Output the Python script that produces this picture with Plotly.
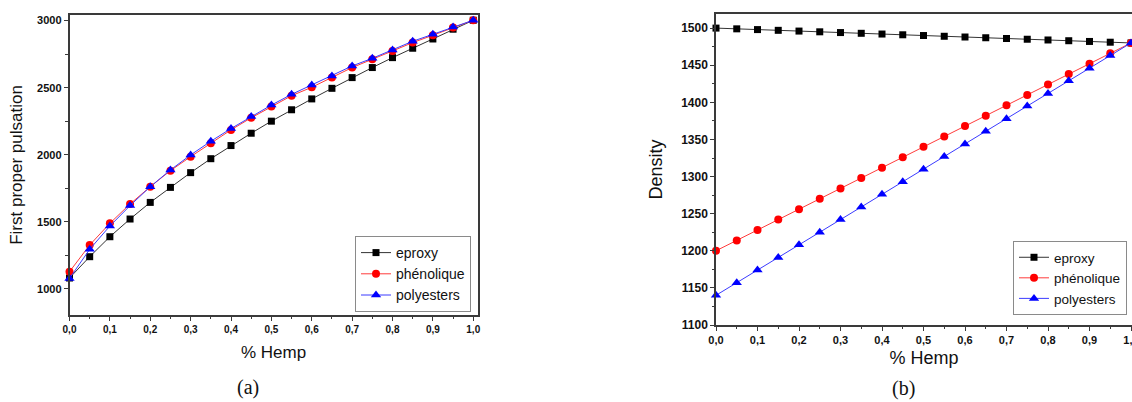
import plotly.graph_objects as go

hemp = [0.0, 0.05, 0.1, 0.15, 0.2, 0.25, 0.3, 0.35, 0.4, 0.45, 0.5,
        0.55, 0.6, 0.65, 0.7, 0.75, 0.8, 0.85, 0.9, 0.95, 1.0]

puls_eproxy = [1080, 1239, 1388, 1520, 1644, 1756, 1866, 1970, 2068, 2160, 2250,
               2335, 2416, 2495, 2575, 2650, 2724, 2794, 2863, 2936, 3003]
puls_phenol = [1127, 1326, 1488, 1632, 1761, 1881, 1985, 2085, 2185, 2275, 2360,
               2440, 2503, 2575, 2650, 2712, 2774, 2836, 2891, 2948, 3003]
puls_polyes = [1077, 1294, 1468, 1620, 1761, 1886, 1998, 2100, 2195, 2285, 2370,
               2450, 2520, 2587, 2662, 2719, 2781, 2846, 2898, 2953, 3003]

dens_eproxy = [1500, 1499, 1498, 1497, 1496, 1495, 1494, 1493, 1492, 1491, 1490,
               1489, 1488, 1487, 1486, 1485, 1484, 1483, 1482, 1481, 1480]
dens_phenol = [1200, 1214, 1228, 1242, 1256, 1270, 1284, 1298, 1312, 1326, 1340,
               1354, 1368, 1382, 1396, 1410, 1424, 1438, 1452, 1466, 1480]
dens_polyes = [1140, 1157, 1174, 1191, 1208, 1225, 1242, 1259, 1276, 1293, 1310,
               1327, 1344, 1361, 1378, 1395, 1412, 1429, 1446, 1463, 1480]

series_names = ["eproxy", "phénolique", "polyesters"]
x_tick_vals = [0.0, 0.1, 0.2, 0.3, 0.4, 0.5, 0.6, 0.7, 0.8, 0.9, 1.0]
x_tick_text = ["0,0", "0,1", "0,2", "0,3", "0,4", "0,5", "0,6", "0,7", "0,8", "0,9", "1,0"]
puls_ticks = [1000, 1500, 2000, 2500, 3000]
dens_ticks = [1100, 1150, 1200, 1250, 1300, 1350, 1400, 1450, 1500]

W, H = 1132, 402
colors = ["#000000", "#ff0000", "#0000ff"]
line_colors = ["#333333", "#ff3b3b", "#3b3bff"]
symbols = ["square", "circle", "triangle-up"]
msizes = [7, 8, 9]

fig = go.Figure()
left = [puls_eproxy, puls_phenol, puls_polyes]
right = [dens_eproxy, dens_phenol, dens_polyes]
for i in range(3):
    fig.add_trace(go.Scatter(
        x=hemp, y=left[i], name=series_names[i], mode="lines+markers",
        xaxis="x", yaxis="y", legend="legend",
        line=dict(color=line_colors[i], width=1),
        marker=dict(color=colors[i], symbol=symbols[i], size=msizes[i]),
        cliponaxis=False))
for i in range(3):
    fig.add_trace(go.Scatter(
        x=hemp, y=right[i], name=series_names[i], mode="lines+markers",
        xaxis="x2", yaxis="y2", legend="legend2",
        line=dict(color=line_colors[i], width=1),
        marker=dict(color=colors[i], symbol=symbols[i], size=msizes[i]),
        cliponaxis=False))

axis_common = dict(showgrid=False, zeroline=False, showline=True, mirror=True,
                   linecolor="#3a3a3a", linewidth=1.5, ticks="outside",
                   tickcolor="#3a3a3a", ticklen=4, tickwidth=1.2, automargin=False)
sans = "Arial, Liberation Sans"
serif = "Liberation Serif, Times New Roman"

fig.update_layout(
    width=W, height=H, margin=dict(l=0, r=0, t=0, b=0),
    paper_bgcolor="white", plot_bgcolor="white",
    font=dict(family=sans, color="#111"),
    xaxis=dict(domain=[69.5 / W, 477.7 / W], range=[0, 1.011], anchor="y",
               tickvals=x_tick_vals, ticktext=x_tick_text,
               tickfont=dict(size=10, weight="bold"),
               minor=dict(ticks="outside", dtick=0.05, ticklen=2.5, tickcolor="#3a3a3a"),
               title=dict(text="% Hemp", font=dict(family=sans, size=17, color="#111"), standoff=12),
               **axis_common),
    yaxis=dict(domain=[1 - 315 / H, 1 - 15 / H], range=[804, 3042], anchor="x",
               tickvals=puls_ticks,
               tickfont=dict(size=11, weight="bold"),
               minor=dict(ticks="outside", dtick=250, tick0=1000, ticklen=2.5, tickcolor="#3a3a3a"),
               title=dict(text="First proper pulsation", font=dict(family=sans, size=17, color="#111"), standoff=10),
               **axis_common),
    xaxis2=dict(domain=[716 / W, 1.0], range=[0, 1.0024], anchor="y2",
                tickvals=x_tick_vals, ticktext=x_tick_text, ticklabeloverflow="allow",
                tickfont=dict(size=11, weight="bold"),
                minor=dict(ticks="outside", dtick=0.05, ticklen=2.5, tickcolor="#3a3a3a"),
                title=dict(text="% Hemp", font=dict(family=sans, size=18, color="#111"), standoff=6),
                **axis_common),
    yaxis2=dict(domain=[1 - 325 / H, 1 - 14 / H], range=[1100, 1519], anchor="x2",
                tickvals=dens_ticks,
                tickfont=dict(size=12, weight="bold"),
                minor=dict(ticks="outside", dtick=25, tick0=1100, ticklen=2.5, tickcolor="#3a3a3a"),
                title=dict(text="Density", font=dict(family=sans, size=18, color="#111"), standoff=14),
                **axis_common),
    legend=dict(x=471 / W, y=1 - 312 / H, xanchor="right", yanchor="bottom",
                bgcolor="white", bordercolor="#8a8a8a", borderwidth=1,
                font=dict(size=14, color="#111"), itemwidth=30,
                tracegroupgap=0),
    legend2=dict(x=1127 / W, y=1 - 315 / H, xanchor="right", yanchor="bottom",
                 bgcolor="white", bordercolor="#8a8a8a", borderwidth=1,
                 font=dict(size=13.5, color="#111"), itemwidth=30,
                 tracegroupgap=0),
    annotations=[
        dict(text="(a)", x=248 / W, y=1 - 387 / H, xref="paper", yref="paper",
             xanchor="center", yanchor="middle",
             showarrow=False, font=dict(family=serif, size=20, color="#111")),
        dict(text="(b)", x=903 / W, y=1 - 388 / H, xref="paper", yref="paper",
             xanchor="center", yanchor="middle",
             showarrow=False, font=dict(family=serif, size=20, color="#111")),
    ],
    showlegend=True,
)

fig.write_html("out.html")
